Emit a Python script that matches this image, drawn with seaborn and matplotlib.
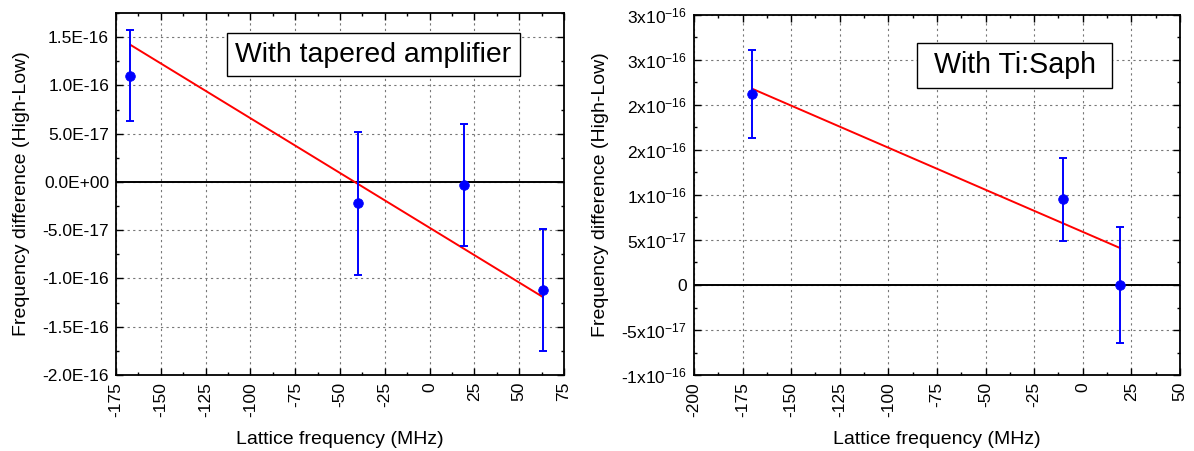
import numpy as np
import pandas as pd
import matplotlib
matplotlib.use("Agg")
import matplotlib.pyplot as plt
from matplotlib.ticker import MultipleLocator, FixedLocator, FixedFormatter
import seaborn as sns

# ---- data (left panel: tapered amplifier) ----
ta_freq = [-167, -40, 19, 63]
ta_diff = [1.10e-16, -0.22e-16, -0.03e-16, -1.12e-16]
ta_err = [0.47e-16, 0.74e-16, 0.63e-16, 0.63e-16]
ta_fit_x = [-167, 63]
ta_fit_y = [1.42e-16, -1.19e-16]

# ---- data (right panel: Ti:Saph) ----
ts_freq = [-170, -10, 19.3]
ts_diff = [2.12e-16, 0.95e-16, 0.0]
ts_err = [0.49e-16, 0.46e-16, 0.64e-16]
ts_fit_x = [-170, 19.3]
ts_fit_y = [2.18e-16, 0.41e-16]

left_xticks = [-175, -150, -125, -100, -75, -50, -25, 0, 25, 50, 75]
left_yticks = [-2.0e-16, -1.5e-16, -1.0e-16, -5.0e-17, 0.0, 5.0e-17, 1.0e-16, 1.5e-16]
left_ylabels = ["-2.0E-16", "-1.5E-16", "-1.0E-16", "-5.0E-17", "0.0E+00",
                "5.0E-17", "1.0E-16", "1.5E-16"]
right_xticks = [-200, -175, -150, -125, -100, -75, -50, -25, 0, 25, 50]
right_yticks = [-1e-16, -5e-17, 0, 5e-17, 1e-16, 1.5e-16, 2e-16, 2.5e-16, 3e-16]
right_ylabels = [r"-1x10$^{-16}$", r"-5x10$^{-17}$", "0", r"5x10$^{-17}$",
                 r"1x10$^{-16}$", r"2x10$^{-16}$", r"2x10$^{-16}$",
                 r"3x10$^{-16}$", r"3x10$^{-16}$"]

sns.set_theme(style="white")
plt.rcParams['font.family'] = ['Liberation Sans', 'DejaVu Sans']
plt.rcParams['mathtext.fontset'] = 'custom'
plt.rcParams['mathtext.rm'] = 'Liberation Sans'
plt.rcParams['mathtext.it'] = 'Liberation Sans:italic'
plt.rcParams['mathtext.bf'] = 'Liberation Sans:bold'
plt.rcParams['text.color'] = 'black'
plt.rcParams['axes.labelcolor'] = 'black'
plt.rcParams['xtick.color'] = 'black'
plt.rcParams['ytick.color'] = 'black'

fig = plt.figure(figsize=(11.94, 4.51), dpi=100)
axL = fig.add_axes([0.0972, 0.1685, 0.3752, 0.8027])
axR = fig.add_axes([0.5812, 0.1685, 0.4070, 0.7983])


def style_axis(ax, xticks, yticks, ylabels, xlim, ylim, yminor, ylpad):
    ax.set_xlim(*xlim)
    ax.set_ylim(*ylim)
    ax.xaxis.set_major_locator(FixedLocator(xticks))
    ax.xaxis.set_minor_locator(MultipleLocator(12.5))
    ax.yaxis.set_major_locator(FixedLocator(yticks))
    ax.yaxis.set_major_formatter(FixedFormatter(ylabels))
    ax.yaxis.set_minor_locator(MultipleLocator(yminor))
    ax.set_xticklabels([str(t) for t in xticks], rotation=90)
    ax.tick_params(which='both', direction='in', top=True, right=True,
                   bottom=True, left=True, color='black', labelcolor='black', width=1.0)
    ax.tick_params(which='major', length=5, labelsize=12.5, pad=5)
    ax.tick_params(which='minor', length=2.5)
    ax.grid(True, which='major', linestyle=(0, (2, 3)), color='#777777', linewidth=0.8)
    for s in ax.spines.values():
        s.set_color('black')
        s.set_linewidth(1.3)
    ax.axhline(0, color='black', linewidth=1.4, zorder=2)
    ax.set_xlabel("Lattice frequency (MHz)", fontsize=14, labelpad=10, color='black')
    ax.set_ylabel("Frequency difference (High-Low)", fontsize=14, labelpad=ylpad, color='black')


def draw(ax, fx, fy, fe, lx, ly):
    df = pd.DataFrame({'x': fx, 'y': fy})
    lf = pd.DataFrame({'x': lx, 'y': ly})
    sns.lineplot(data=lf, x='x', y='y', ax=ax, color='red', linewidth=1.4, zorder=3)
    ax.errorbar(fx, fy, yerr=fe, fmt='none', ecolor='#0000ff', elinewidth=1.4,
                capsize=2.6, capthick=1.4, zorder=4)
    sns.scatterplot(data=df, x='x', y='y', ax=ax, color='#0000ff', s=48,
                    edgecolor='#0000ff', zorder=5)


draw(axL, ta_freq, ta_diff, ta_err, ta_fit_x, ta_fit_y)
style_axis(axL, left_xticks, left_yticks, left_ylabels, (-175, 75),
           (-2.0e-16, 1.75e-16), 2.5e-17, 9)
axL.text(0.2656, 0.884, "With tapered amplifier", transform=axL.transAxes,
         fontsize=20.4, ha='left', va='center', color='black',
         bbox=dict(boxstyle='square,pad=0.3', facecolor='white', edgecolor='black', linewidth=1.0))

draw(axR, ts_freq, ts_diff, ts_err, ts_fit_x, ts_fit_y)
style_axis(axR, right_xticks, right_yticks, right_ylabels, (-200, 50),
           (-1e-16, 3e-16), 2.5e-17, 9)
axR.text(0.4766, 0.860, " With Ti:Saph ", transform=axR.transAxes,
         fontsize=20.6, ha='left', va='center', color='black',
         bbox=dict(boxstyle='square,pad=0.3', facecolor='white', edgecolor='black', linewidth=1.0))

fig.savefig("out.png", dpi=100)
